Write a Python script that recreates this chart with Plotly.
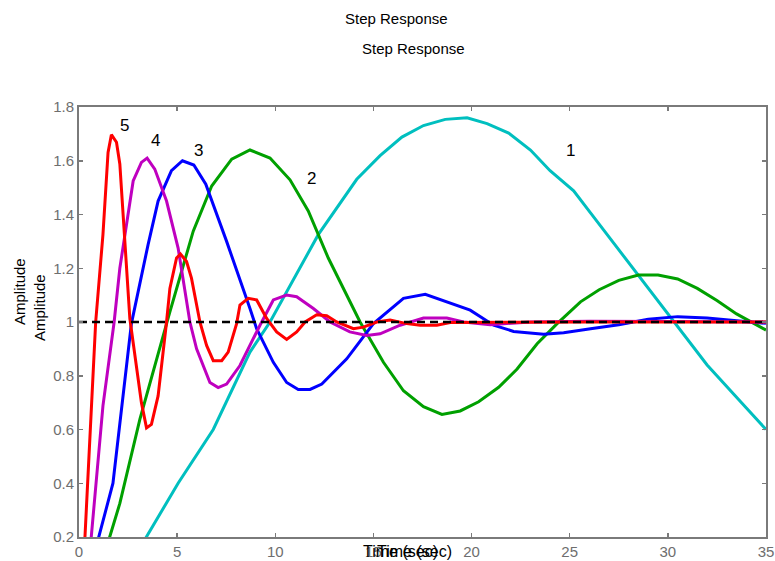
import plotly.graph_objects as go

# ---- data ----
t1 = [0, 1.0, 2.0, 3.35, 5.05, 6.84, 8.71, 9.73, 12.19, 14.15, 15.34, 16.45, 17.55, 18.66, 19.77,
      20.79, 21.89, 23.0, 24.0, 25.2, 26.06, 28.0, 30.0, 32.0, 34.0, 35.0]
y1 = [0, 0.03, 0.09, 0.19, 0.40, 0.60, 0.888, 1.0, 1.325, 1.531, 1.619, 1.688, 1.731, 1.754, 1.760,
      1.738, 1.703, 1.64, 1.563, 1.488, 1.406, 1.22, 1.03, 0.84, 0.68, 0.60]

t2 = [0, 0.5, 1.0, 1.48, 2.08, 3.1, 4.63, 5.82, 6.76, 7.78, 8.71, 9.73, 10.75, 11.68, 12.7, 13.8,
      14.32, 15.51, 16.53, 17.55, 18.49, 19.42, 20.36, 21.38, 22.32, 23.34, 24.36, 25.55, 26.5,
      27.5, 28.5, 29.5, 30.5, 31.5, 32.5, 33.5, 34.5, 35.0]
y2 = [0, 0.02, 0.08, 0.18, 0.325, 0.638, 1.038, 1.338, 1.506, 1.606, 1.64, 1.61, 1.529, 1.413,
      1.238, 1.075, 1.0, 0.85, 0.744, 0.685, 0.656, 0.669, 0.703, 0.757, 0.825, 0.919, 0.994,
      1.075, 1.12, 1.155, 1.175, 1.175, 1.16, 1.125, 1.08, 1.03, 0.99, 0.97]

t3 = [0, 0.5, 0.97, 1.73, 2.67, 3.52, 4.03, 4.71, 5.27, 5.85, 6.46, 7.52, 8.71, 9.05, 9.9, 10.58,
      11.17, 11.77, 12.37, 13.64, 15.0, 16.53, 17.64, 18.74, 19.93, 21.12, 22.14, 23.67, 24.69,
      26.06, 27.5, 29.0, 30.5, 32.0, 33.5, 35.0]
y3 = [0, 0.06, 0.19, 0.40, 0.994, 1.288, 1.45, 1.563, 1.60, 1.584, 1.513, 1.30, 1.05, 0.975, 0.85,
      0.775, 0.749, 0.749, 0.769, 0.863, 0.994, 1.088, 1.103, 1.075, 1.044, 0.988, 0.965, 0.954,
      0.96, 0.975, 0.99, 1.01, 1.02, 1.015, 1.005, 0.995]

t4 = [0, 0.3, 0.6, 1.22, 1.79, 2.08, 2.76, 3.18, 3.47, 3.86, 4.46, 5.05, 5.65, 5.99, 6.67, 7.09,
      7.52, 8.2, 9.22, 9.9, 10.58, 11.09, 11.94, 12.79, 13.8, 14.66, 15.34, 16.36, 17.55, 18.74,
      19.59, 20.95, 23.0, 26.0, 30.0, 35.0]
y4 = [0, 0.05, 0.18, 0.688, 1.0, 1.2, 1.525, 1.594, 1.61, 1.569, 1.45, 1.275, 1.0, 0.90, 0.775,
      0.756, 0.769, 0.838, 0.988, 1.082, 1.10, 1.094, 1.05, 1.0, 0.963, 0.95, 0.956, 0.988, 1.015,
      1.015, 1.0, 0.99, 1.0, 1.003, 1.002, 1.0]

t5 = [0, 0.15, 0.29, 0.85, 1.22, 1.48, 1.65, 1.91, 2.08, 2.5, 2.59, 3.18, 3.44, 3.69, 4.03, 4.46,
      4.63, 4.97, 5.17, 5.48, 5.73, 6.16, 6.5, 6.84, 7.27, 7.6, 8.03, 8.2, 8.62, 9.05, 9.56, 10.07,
      10.58, 11.09, 11.52, 12.11, 12.62, 13.13, 13.98, 14.49, 15.17, 15.85, 16.7, 17.38, 18.23,
      18.91, 22.0, 26.0, 30.0, 35.0]
y5 = [0, 0.05, 0.18, 1.0, 1.325, 1.631, 1.697, 1.669, 1.588, 1.125, 1.013, 0.70, 0.606, 0.619,
      0.725, 1.0, 1.125, 1.238, 1.253, 1.225, 1.163, 1.0, 0.913, 0.856, 0.856, 0.888, 0.994, 1.063,
      1.088, 1.082, 1.013, 0.963, 0.935, 0.963, 1.0, 1.027, 1.023, 1.0, 0.975, 0.981, 1.0, 1.007,
      0.994, 0.988, 0.988, 0.998, 1.0, 1.0, 1.0, 1.0]

ref_t = [0, 35]
ref_y = [1, 1]

series = [
    (t1, y1, "#00BFBF"),
    (t2, y2, "#00A000"),
    (t3, y3, "#0000FF"),
    (t4, y4, "#BF00BF"),
    (t5, y5, "#FF0000"),
]

curve_labels = ["1", "2", "3", "4", "5"]
label_t = [25.03, 11.86, 6.07, 3.9, 2.33]
label_y = [1.638, 1.535, 1.638, 1.675, 1.731]

x_tickvals = [0, 5, 10, 15, 20, 25, 30, 35]
x_ticktext = ["0", "5", "10", "15", "20", "25", "30", "35"]
y_tickvals = [0.2, 0.4, 0.6, 0.8, 1.0, 1.2, 1.4, 1.6, 1.8]
y_ticktext = ["0.2", "0.4", "0.6", "0.8", "1", "1.2", "1.4", "1.6", "1.8"]

FONT = "Liberation Sans, Arial, sans-serif"
AXCOL = "#7a7a7a"
TXTCOL = "#6e6e6e"

W, H = 775, 561
ML, MR, MT, MB = 79, 9, 107, 24
PW, PH = W - ML - MR, H - MT - MB


def px_to_paper(px, py):
    """pixel (from top-left of the page) -> paper coords"""
    return (px - ML) / PW, (H - py - MB) / PH


fig = go.Figure()
for t, y, c in series:
    fig.add_trace(go.Scatter(x=t, y=y, mode="lines", line=dict(color=c, width=3),
                             showlegend=False, hoverinfo="skip"))
fig.add_trace(go.Scatter(x=ref_t, y=ref_y, mode="lines",
                         line=dict(color="black", width=2.5, dash="8px,5px"),
                         showlegend=False, hoverinfo="skip"))

for s, tx, ty in zip(curve_labels, label_t, label_y):
    fig.add_annotation(x=tx, y=ty, xref="x", yref="y", text=s, showarrow=False,
                       xanchor="center", yanchor="middle",
                       font=dict(family=FONT, size=17, color="black"))

# duplicated titles / axis labels as in the reference
for (px, py) in [(396, 19), (413, 48)]:
    xx, yy = px_to_paper(px, py)
    fig.add_annotation(x=xx, y=yy, xref="paper", yref="paper", text="Step Response",
                       xanchor="center", yanchor="middle",
                       showarrow=False, font=dict(family=FONT, size=15, color="black"))

for (px, py) in [(19, 292), (39, 308)]:
    xx, yy = px_to_paper(px, py)
    fig.add_annotation(x=xx, y=yy, xref="paper", yref="paper", text="Amplitude",
                       textangle=-90, showarrow=False, xanchor="center", yanchor="middle",
                       font=dict(family=FONT, size=15, color="black"))

for px in [400, 414]:
    xx, yy = px_to_paper(px, 551)
    fig.add_annotation(x=xx, y=yy, xref="paper", yref="paper", text="Time (sec)",
                       showarrow=False, xanchor="center", yanchor="middle",
                       font=dict(family=FONT, size=16, color="black"))

fig.update_layout(
    width=W, height=H,
    margin=dict(l=ML, r=MR, t=MT, b=MB, autoexpand=False),
    paper_bgcolor="white", plot_bgcolor="white",
    font=dict(family=FONT, size=15, color=TXTCOL),
    xaxis=dict(range=[0, 35], tickvals=x_tickvals, ticktext=x_ticktext, automargin=False,
               showgrid=False, zeroline=False, showline=True, linecolor=AXCOL, linewidth=2,
               mirror="ticks", ticks="inside", ticklen=4, tickcolor=AXCOL, tickwidth=1.5,
               tickfont=dict(family=FONT, size=15, color=TXTCOL)),
    yaxis=dict(range=[0.2, 1.8], tickvals=y_tickvals, ticktext=y_ticktext, automargin=False,
               showgrid=False, zeroline=False, showline=True, linecolor=AXCOL, linewidth=2,
               mirror="ticks", ticks="inside", ticklen=4, tickcolor=AXCOL, tickwidth=1.5,
               tickfont=dict(family=FONT, size=15, color=TXTCOL)),
)

fig.write_html("out.html", config={"displayModeBar": False, "staticPlot": True})

# remove the default page margin so the figure sits at the window's top-left corner
with open("out.html", "r", encoding="utf-8") as f:
    html = f.read()
html = html.replace("<head>", "<head><style>html,body{margin:0;padding:0;overflow:hidden;}</style>", 1)
with open("out.html", "w", encoding="utf-8") as f:
    f.write(html)
